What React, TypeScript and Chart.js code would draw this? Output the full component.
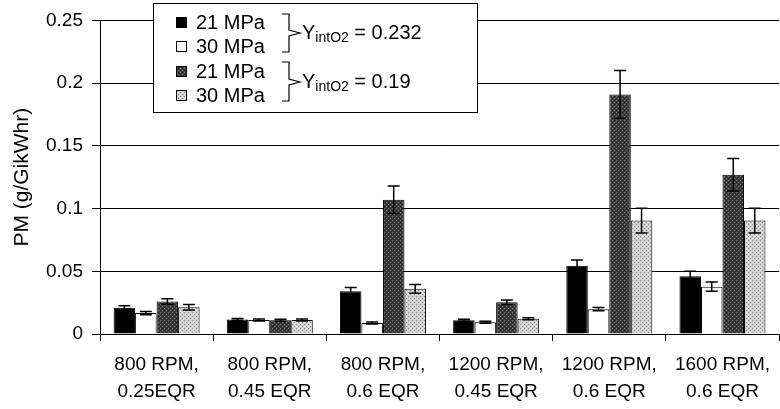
import React, { useEffect, useRef } from "react";
import { Chart, registerables } from "chart.js";

Chart.register(...registerables);

const categories: string[][] = [
  ["800 RPM,", "0.25EQR"],
  ["800 RPM,", "0.45 EQR"],
  ["800 RPM,", "0.6 EQR"],
  ["1200 RPM,", "0.45 EQR"],
  ["1200 RPM,", "0.6 EQR"],
  ["1600 RPM,", "0.6 EQR"],
];

const seriesLabels = ["21 MPa", "30 MPa", "21 MPa", "30 MPa"];
const groupNotes = ["0.232", "0.19"];

const pm21a = [0.021, 0.0115, 0.034, 0.011, 0.0545, 0.046];
const pm30a = [0.0167, 0.0112, 0.0088, 0.0094, 0.0198, 0.0377];
const pm21b = [0.026, 0.011, 0.107, 0.0253, 0.191, 0.127];
const pm30b = [0.0213, 0.0112, 0.036, 0.0122, 0.0904, 0.0904];

const err21a = [0.0015, 0.0008, 0.003, 0.0008, 0.0045, 0.004];
const err30a = [0.0013, 0.0008, 0.0008, 0.0008, 0.0013, 0.0037];
const err21b = [0.0022, 0.0008, 0.011, 0.0018, 0.019, 0.013];
const err30b = [0.0022, 0.0008, 0.0035, 0.0008, 0.0098, 0.0098];

const yTicks = [0, 0.05, 0.1, 0.15, 0.2, 0.25];

const FONT = "'Liberation Sans', Arial, sans-serif";

function makePattern(base: string, dot: string, dot2: string): CanvasPattern | string {
  const c = document.createElement("canvas");
  c.width = 4;
  c.height = 4;
  const g = c.getContext("2d");
  if (!g) return base;
  g.fillStyle = base;
  g.fillRect(0, 0, 4, 4);
  g.fillStyle = dot;
  g.fillRect(0, 0, 1, 1);
  g.fillRect(2, 2, 1, 1);
  g.fillStyle = dot2;
  g.fillRect(2, 0, 1, 1);
  g.fillRect(0, 2, 1, 1);
  const p = g.createPattern(c, "repeat");
  return p || base;
}

export default function App() {
  const ref = useRef<HTMLCanvasElement | null>(null);

  useEffect(() => {
    if (!ref.current) return;
    const darkFill = makePattern("#3c3c3c", "#7a7a7a", "#222");
    const lightFill = makePattern("#cfcfcf", "#8a8a8a", "#eeeeee");
    const fills = ["#000000", "#ffffff", darkFill, lightFill];
    const values = [pm21a, pm30a, pm21b, pm30b];
    const errors = [err21a, err30a, err21b, err30b];

    const errorBars = {
      id: "errorBars",
      afterDatasetsDraw(chart: any) {
        const ctx = chart.ctx;
        const ys = chart.scales.y;
        ctx.save();
        ctx.strokeStyle = "#000";
        ctx.lineWidth = 1.5;
        chart.data.datasets.forEach((ds: any, i: number) => {
          const meta = chart.getDatasetMeta(i);
          meta.data.forEach((el: any, j: number) => {
            const v = ds.data[j];
            const e = errors[i][j];
            const x = el.x;
            const yt = ys.getPixelForValue(v + e);
            const yb = ys.getPixelForValue(Math.max(0, v - e));
            ctx.beginPath();
            ctx.moveTo(x, yt);
            ctx.lineTo(x, yb);
            ctx.moveTo(x - 6, yt);
            ctx.lineTo(x + 6, yt);
            ctx.moveTo(x - 6, yb);
            ctx.lineTo(x + 6, yb);
            ctx.stroke();
          });
        });
        ctx.restore();
      },
    };

    const legendBox = {
      id: "legendBox",
      afterDraw(chart: any) {
        const ctx = chart.ctx;
        ctx.save();
        const bx = 153.5, by = 3.5, bw = 324, bh = 109;
        ctx.fillStyle = "#fff";
        ctx.fillRect(bx, by, bw, bh);
        ctx.strokeStyle = "#000";
        ctx.lineWidth = 1;
        ctx.strokeRect(bx, by, bw, bh);
        const rows = [22, 46, 71, 95];
        ctx.font = `20px ${FONT}`;
        ctx.textBaseline = "middle";
        ctx.textAlign = "left";
        rows.forEach((ry, i) => {
          ctx.fillStyle = fills[i] as any;
          ctx.fillRect(176, ry - 5, 11, 11);
          ctx.strokeStyle = "#000";
          ctx.strokeRect(176.5, ry - 4.5, 10, 10);
          ctx.fillStyle = "#000";
          ctx.fillText(seriesLabels[i], 196, ry + 1);
        });
        const braces = [
          [14, 33, 52],
          [62, 82, 101],
        ];
        braces.forEach((b, k) => {
          const [t, m, bt] = b;
          ctx.beginPath();
          ctx.lineWidth = 1.2;
          ctx.moveTo(282, t);
          ctx.lineTo(289, t);
          ctx.lineTo(289, m - 3);
          ctx.lineTo(300, m);
          ctx.lineTo(289, m + 3);
          ctx.lineTo(289, bt);
          ctx.lineTo(282, bt);
          ctx.stroke();
          let x = 302;
          ctx.font = `20px ${FONT}`;
          ctx.fillText("Y", x, m);
          x += ctx.measureText("Y").width;
          ctx.font = `14px ${FONT}`;
          ctx.fillText("intO2", x, m + 5);
          x += ctx.measureText("intO2").width;
          ctx.font = `20px ${FONT}`;
          ctx.fillText(" = " + groupNotes[k], x, m);
        });
        ctx.restore();
      },
    };

    const chart = new Chart(ref.current, {
      type: "bar",
      data: {
        labels: categories,
        datasets: values.map((vals, i) => ({
          label: seriesLabels[i],
          data: vals,
          backgroundColor: fills[i] as any,
          borderColor: "#000",
          borderWidth: 1,
          categoryPercentage: 0.76,
          barPercentage: 1,
        })),
      },
      options: {
        responsive: false,
        animation: false,
        devicePixelRatio: 1,
        layout: { padding: { top: 15, right: 0, left: 0, bottom: 0 } },
        plugins: {
          legend: { display: false },
          tooltip: { enabled: false },
        },
        scales: {
          x: {
            grid: {
              offset: true,
              drawOnChartArea: false,
              color: "#000",
              tickLength: 7,
            },
            border: { color: "#000", width: 1 },
            ticks: {
              color: "#000",
              font: { family: FONT, size: 19, lineHeight: 1.42 },
              padding: 10,
              maxRotation: 0,
              autoSkip: false,
            },
            afterFit(scale: any) {
              scale.height = 75;
            },
          },
          y: {
            min: 0,
            max: 0.25,
            afterBuildTicks(scale: any) {
              scale.ticks = yTicks.map((v) => ({ value: v }));
            },
            grid: { color: "#000", tickLength: 8, lineWidth: 1 },
            border: { color: "#000", width: 1 },
            ticks: {
              color: "#000",
              font: { family: FONT, size: 19 },
              padding: 9,
              callback: (v: any) => String(Number(Number(v).toFixed(2))),
            },
            title: {
              display: true,
              text: "PM (g/GikWhr)",
              color: "#000",
              font: { family: FONT, size: 21 },
              padding: { top: 10, bottom: 0 },
            },
            afterFit(scale: any) {
              scale.width = 100;
            },
          },
        },
      },
      plugins: [errorBars, legendBox],
    } as any);
    return () => chart.destroy();
  }, []);

  return (
    <div style={{ position: "absolute", left: 0, top: 0, width: 780, height: 409, background: "#fff" }}>
      <canvas ref={ref} width={780} height={409} />
    </div>
  );
}
